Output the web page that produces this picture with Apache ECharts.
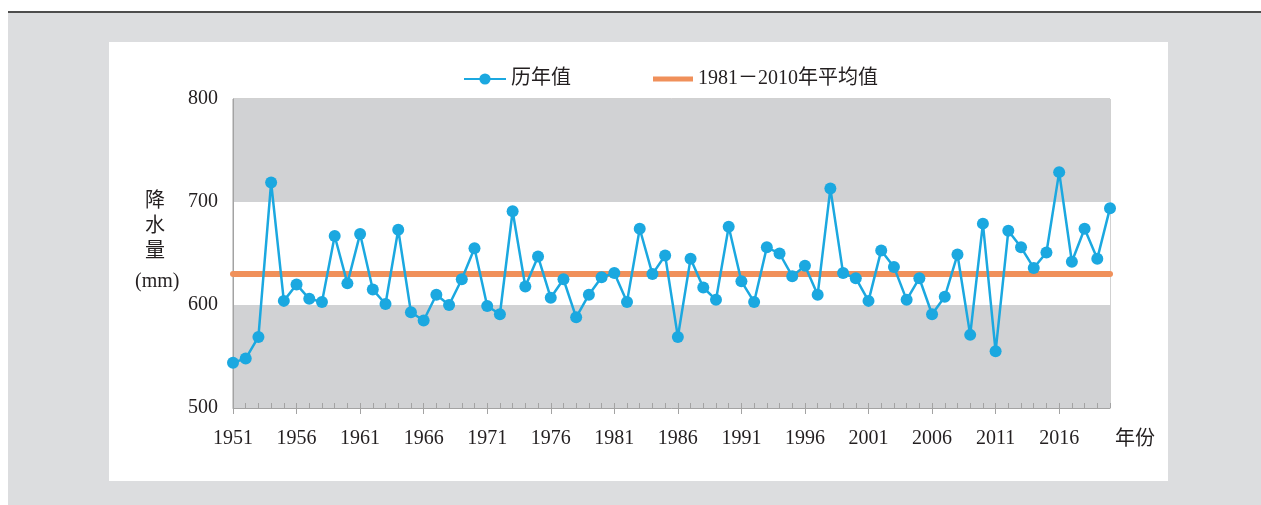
<!DOCTYPE html>
<html>
<head>
<meta charset="utf-8">
<script src="https://cdn.jsdelivr.net/npm/echarts@6/dist/echarts.min.js"></script>
<style>
  html, body { margin: 0; padding: 0; background: #ffffff; }
  #frame { position: absolute; left: 8px; top: 13px; width: 1253px; height: 492px; background: #dcdddf; }
  #rule { position: absolute; left: 8px; top: 11px; width: 1253px; height: 2px; background: #4d4d4d; }
  #panel { position: absolute; left: 109px; top: 42px; width: 1059px; height: 439px; background: #ffffff; }
  #chart { position: absolute; left: 0; top: 0; width: 1261px; height: 505px; }
</style>
</head>
<body>
<div id="frame"></div>
<div id="rule"></div>
<div id="panel"></div>
<div id="chart"></div>
<script>
// Years on the x axis
const years = [
  '1951','1952','1953','1954','1955','1956','1957','1958','1959','1960',
  '1961','1962','1963','1964','1965','1966','1967','1968','1969','1970',
  '1971','1972','1973','1974','1975','1976','1977','1978','1979','1980',
  '1981','1982','1983','1984','1985','1986','1987','1988','1989','1990',
  '1991','1992','1993','1994','1995','1996','1997','1998','1999','2000',
  '2001','2002','2003','2004','2005','2006','2007','2008','2009','2010',
  '2011','2012','2013','2014','2015','2016','2017','2018','2019','2020'
];

// Annual precipitation (mm)
const precipitation = [
  544, 548, 569, 719, 604, 620, 606, 603, 667, 621,
  669, 615, 601, 673, 593, 585, 610, 600, 625, 655,
  599, 591, 691, 618, 647, 607, 625, 588, 610, 627,
  631, 603, 674, 630, 648, 569, 645, 617, 605, 676,
  623, 603, 656, 650, 628, 638, 610, 713, 631, 626,
  604, 653, 637, 605, 626, 591, 608, 649, 571, 679,
  555, 672, 656, 636, 651, 729, 642, 674, 645, 694
];

// 1981–2010 normal (mm)
const normal19812010 = 630;

// Y axis range
const yTicks = [500, 600, 700, 800];

const seriesNames = ['历年值', '1981－2010年平均值'];

const FONT = "'Liberation Serif', 'Noto Sans CJK SC', serif";
const INK = '#231f20';
const BLUE = '#1ba8e0';
const ORANGE = '#f0905a';
const AXIS = '#a3a3a3';

const chart = echarts.init(document.getElementById('chart'), null, { renderer: 'canvas' });

const legendText = { fontSize: 20, color: INK, fontFamily: FONT };

chart.setOption({
  backgroundColor: 'transparent',
  animation: false,
  textStyle: { fontFamily: FONT, color: INK },
  legend: [
    {
      data: [seriesNames[0]],
      left: 458,
      top: 64,
      itemWidth: 42,
      itemHeight: 14,
      textStyle: legendText
    },
    {
      data: [seriesNames[1]],
      left: 648,
      top: 64,
      icon: 'rect',
      itemWidth: 40,
      itemHeight: 5,
      textStyle: legendText
    }
  ],
  grid: {
    left: 233, right: 151, top: 99, bottom: 97,
    show: true, borderColor: AXIS, borderWidth: 1,
    backgroundColor: 'transparent'
  },
  xAxis: [
    {
      type: 'category',
      data: years,
      boundaryGap: false,
      position: 'bottom',
      axisLine: { show: true, lineStyle: { color: AXIS, width: 1 } },
      axisTick: { show: true, interval: 4, length: 6, inside: false, lineStyle: { color: AXIS } },
      axisLabel: { interval: 4, margin: 21, fontSize: 20, color: INK, fontFamily: FONT },
      splitLine: { show: false }
    },
    {
      type: 'category',
      data: years,
      boundaryGap: false,
      position: 'bottom',
      axisLine: { show: false },
      axisTick: { show: true, interval: 0, length: 5, inside: true, lineStyle: { color: AXIS } },
      axisLabel: { show: false },
      splitLine: { show: false }
    }
  ],
  yAxis: {
    type: 'value',
    min: yTicks[0],
    max: yTicks[yTicks.length - 1],
    interval: 100,
    axisLine: { show: true, lineStyle: { color: AXIS, width: 1 } },
    axisTick: { show: false },
    axisLabel: { margin: 15, fontSize: 20, color: INK, fontFamily: FONT },
    splitLine: { show: false },
    splitArea: { show: true, areaStyle: { color: ['#d1d2d4', '#ffffff'] } }
  },
  graphic: [
    {
      type: 'text', left: 145, top: 189,
      style: { text: '降', font: "20px 'Noto Sans CJK SC'", fill: INK }
    },
    {
      type: 'text', left: 145, top: 214,
      style: { text: '水', font: "20px 'Noto Sans CJK SC'", fill: INK }
    },
    {
      type: 'text', left: 145, top: 239,
      style: { text: '量', font: "20px 'Noto Sans CJK SC'", fill: INK }
    },
    {
      type: 'text', left: 135, top: 272,
      style: { text: '(mm)', font: "20px 'Liberation Serif'", fill: INK }
    },
    {
      type: 'text', left: 1115, top: 427,
      style: { text: '年份', font: "20px 'Noto Sans CJK SC'", fill: INK }
    }
  ],
  series: [
    {
      name: seriesNames[0],
      type: 'line',
      xAxisIndex: 0,
      data: precipitation,
      symbol: 'circle',
      symbolSize: 12,
      showAllSymbol: true,
      lineStyle: { color: BLUE, width: 2.5 },
      itemStyle: { color: BLUE },
      z: 4
    },
    {
      name: seriesNames[1],
      type: 'line',
      xAxisIndex: 0,
      data: [],
      symbol: 'none',
      lineStyle: { color: ORANGE, width: 5 },
      itemStyle: { color: ORANGE },
      z: 2,
      markLine: {
        z: 1,
        silent: true,
        symbol: 'none',
        label: { show: false },
        lineStyle: { color: ORANGE, width: 6, type: 'solid', cap: 'round' },
        emphasis: { disabled: true },
        data: [{ yAxis: normal19812010 }]
      }
    }
  ]
});
</script>
</body>
</html>
